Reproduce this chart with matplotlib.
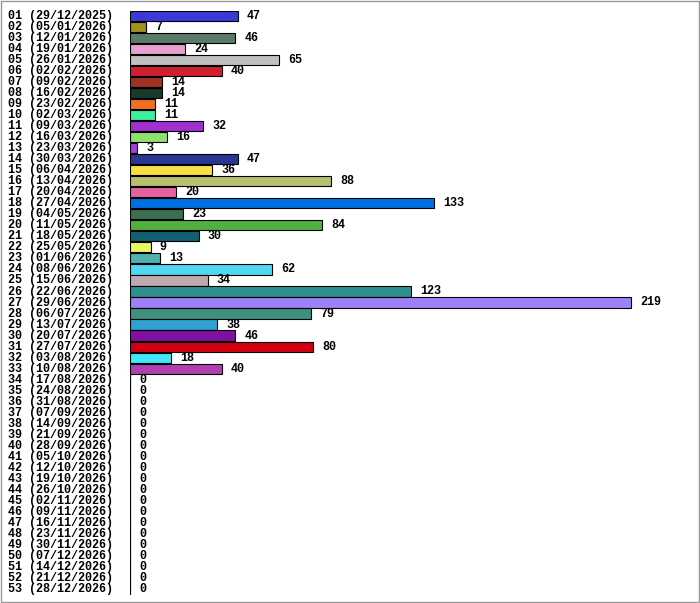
import matplotlib
matplotlib.use("Agg")
import matplotlib.pyplot as plt
from matplotlib.patches import Rectangle

labels = ["01 (29/12/2025)","02 (05/01/2026)","03 (12/01/2026)","04 (19/01/2026)","05 (26/01/2026)",
"06 (02/02/2026)","07 (09/02/2026)","08 (16/02/2026)","09 (23/02/2026)","10 (02/03/2026)",
"11 (09/03/2026)","12 (16/03/2026)","13 (23/03/2026)","14 (30/03/2026)","15 (06/04/2026)",
"16 (13/04/2026)","17 (20/04/2026)","18 (27/04/2026)","19 (04/05/2026)","20 (11/05/2026)",
"21 (18/05/2026)","22 (25/05/2026)","23 (01/06/2026)","24 (08/06/2026)","25 (15/06/2026)",
"26 (22/06/2026)","27 (29/06/2026)","28 (06/07/2026)","29 (13/07/2026)","30 (20/07/2026)",
"31 (27/07/2026)","32 (03/08/2026)","33 (10/08/2026)","34 (17/08/2026)","35 (24/08/2026)",
"36 (31/08/2026)","37 (07/09/2026)","38 (14/09/2026)","39 (21/09/2026)","40 (28/09/2026)",
"41 (05/10/2026)","42 (12/10/2026)","43 (19/10/2026)","44 (26/10/2026)","45 (02/11/2026)",
"46 (09/11/2026)","47 (16/11/2026)","48 (23/11/2026)","49 (30/11/2026)","50 (07/12/2026)",
"51 (14/12/2026)","52 (21/12/2026)","53 (28/12/2026)"]
values = [47,7,46,24,65,40,14,14,11,11,32,16,3,47,36,88,20,133,23,84,30,9,13,62,34,123,219,79,38,46,80,18,40] + [0]*20
colors = ["#3a3ad8","#a09020","#5a7a6a","#e8a0d0","#c0c0c0","#d02030","#a03020","#1a3a2a","#f07020","#40f0a0",
"#a030d0","#90e070","#a040e0","#283890","#f8e040","#b8c070","#e860a0","#0070e0","#3a7050","#50b040",
"#106070","#e8f860","#50b0b0","#50d8f0","#c0a8b0","#309090","#a080f8","#409080","#30a0d0","#8010a0",
"#d00010","#40e8f8","#b040b0"] + ["#ffffff"]*20

fig = plt.figure(figsize=(7.0, 6.03), dpi=100)
fig.patches.append(Rectangle((0.001, 0.001), 0.997, 0.997, transform=fig.transFigure,
                             fill=False, edgecolor="#999999", lw=1))
ax = fig.add_axes([130/700, 8.5/603, 560/700, 584/603])
n = len(labels)
ys = list(range(n))
ax.barh(ys, values, height=0.92, color=colors, edgecolor="black", linewidth=0.8)
ax.set_ylim(n - 0.5, -0.5)
ax.set_xlim(0, 560/2.288)
for s in ax.spines.values():
    s.set_visible(False)
ax.set_xticks([]); ax.set_yticks([])
ax.axvline(0, ymin=0, ymax=20/53, color="black", lw=0.8)
font = dict(family="Liberation Mono", fontweight="bold", fontsize=8.5)
for y, v, lab in zip(ys, values, labels):
    ax.text(v + 4, y, str(v), va="center", ha="left", **font)
    fig.text(8/700, 1 - (16 + y*11.02)/603, lab, va="center", ha="left", **font)
fig.savefig("out.png", dpi=100)
